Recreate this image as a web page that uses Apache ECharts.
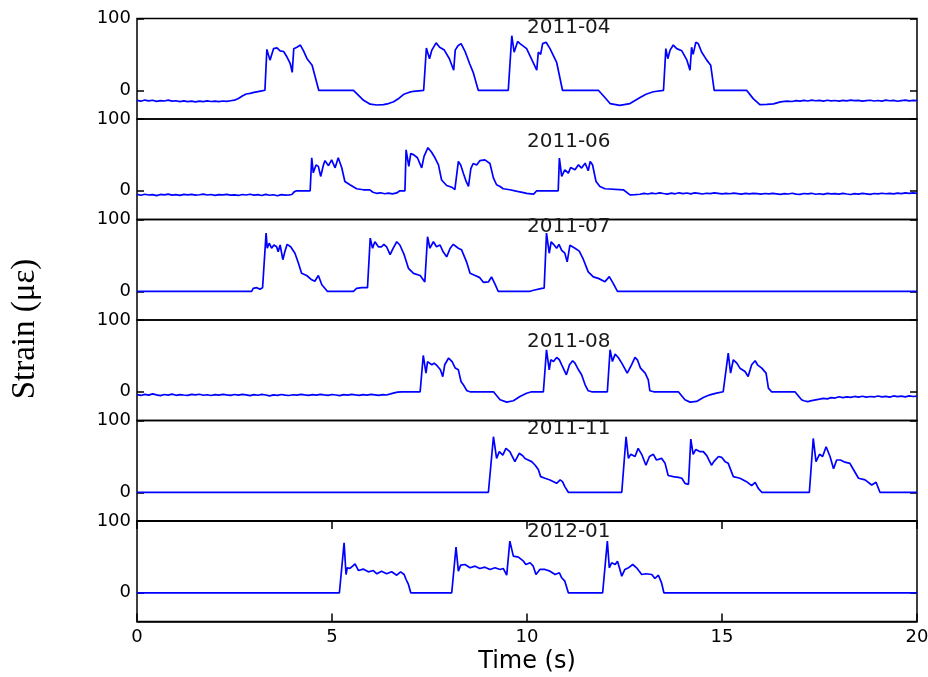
<!DOCTYPE html>
<html>
<head>
<meta charset="utf-8">
<title>Strain records</title>
<script src="https://cdn.jsdelivr.net/npm/echarts/dist/echarts.min.js"></script>
<style>
  html, body { margin: 0; padding: 0; background: #fff; }
  #chart { width: 928px; height: 677px; }
</style>
</head>
<body>
<div id="chart"></div>
<script>
// Recording dates, one stacked panel each
const panelLabels = ['2011-04', '2011-06', '2011-07', '2011-08', '2011-11', '2012-01'];

// Axis ticks
const xTicks = [0, 5, 10, 15, 20];
const yTicks = [0, 100];
const yRange = [-40, 100];
const xLabel = 'Time (s)';
const yLabel = 'Strain (\u03bc\u03b5)';

// Strain traces: [time (s), strain (µε)]
const strain201104 = [
  [0,-14.0],[0.1,-15.2],[0.2,-13.6],[0.3,-14.8],[0.4,-13.9],[0.5,-15.5],[0.6,-14.3],[0.7,-14.9],[0.8,-13.8],[0.9,-15.1],
  [1.0,-14.6],[1.1,-15.8],[1.2,-14.7],[1.3,-15.9],[1.4,-15.2],[1.5,-16.1],[1.6,-15.0],[1.7,-15.7],[1.8,-14.8],[1.9,-15.6],
  [2.0,-15.1],[2.1,-15.9],[2.2,-14.9],[2.3,-15.4],[2.4,-14.6],[2.5,-13.8],[2.6,-11.5],[2.7,-8.0],[2.8,-5.2],[2.9,-4.4],
  [3.0,-3.0],[3.1,-1.8],[3.2,-0.8],[3.28,0],
  [3.33,57],[3.41,42],[3.50,58],[3.59,59],[3.67,55],[3.76,54],[3.85,46],[3.93,37],[3.98,25],[4.02,58],[4.10,60],[4.19,63],
  [4.27,55],[4.36,44],[4.49,35],[4.66,0],
  [5.55,0],[5.70,-8],[5.81,-14],[5.98,-19.4],[6.15,-20.5],[6.32,-20],[6.45,-18.5],[6.58,-16],[6.72,-11],[6.84,-5.6],
  [6.97,-3],[7.09,-1.4],[7.35,0],
  [7.42,59],[7.50,44],[7.56,56],[7.67,66],[7.76,60],[7.88,56],[8.01,44],[8.12,28],[8.16,56],[8.23,62],[8.31,65],[8.42,53],
  [8.53,37],[8.62,25],[8.75,0],
  [9.52,0],[9.61,76],[9.67,53],[9.76,68],[9.82,65],[9.99,58],[10.25,28],[10.29,53],[10.35,50],[10.40,65],[10.49,67],
  [10.59,58],[10.76,39],[10.91,0],
  [11.83,0],[11.98,-9],[12.13,-18.5],[12.38,-21],[12.64,-18.5],[12.90,-10],[13.05,-5.5],[13.24,-2],[13.50,0],
  [13.56,58],[13.61,44],[13.67,56],[13.75,63],[13.84,58],[13.97,55],[14.10,42],[14.18,28],[14.22,60],[14.26,50],[14.33,67],
  [14.39,65],[14.48,53],[14.61,42],[14.71,35],[14.80,0],
  [15.63,0],[15.80,-11.6],[15.97,-20],[16.15,-19.5],[16.32,-19],[16.5,-16.2],[16.66,-15],
  [16.8,-15.6],[16.9,-14.4],[17.0,-15.1],[17.1,-14.0],[17.2,-14.9],[17.3,-13.8],[17.4,-14.6],[17.5,-14.1],[17.6,-15.0],
  [17.7,-13.9],[17.8,-14.7],[17.9,-14.2],[18.0,-15.2],[18.1,-14.0],[18.2,-14.8],[18.3,-13.7],[18.4,-14.5],[18.5,-14.1],
  [18.6,-15.1],[18.7,-14.3],[18.8,-13.9],[18.9,-14.9],[19.0,-14.2],[19.1,-15.0],[19.2,-13.8],[19.3,-14.6],[19.4,-14.0],
  [19.5,-15.3],[19.6,-14.4],[19.7,-13.6],[19.8,-14.8],[19.9,-14.1],[20.0,-14.5]
];

const strain201106 = [
  [0,-5.0],[0.1,-6.2],[0.2,-4.8],[0.3,-5.9],[0.4,-5.3],[0.5,-6.8],[0.6,-5.1],[0.7,-5.7],[0.8,-4.6],[0.9,-6.0],
  [1.0,-5.4],[1.1,-6.3],[1.2,-5.0],[1.3,-5.8],[1.4,-4.9],[1.5,-6.1],[1.6,-5.5],[1.7,-4.7],[1.8,-5.9],[1.9,-5.2],
  [2.0,-6.4],[2.1,-5.3],[2.2,-5.8],[2.3,-4.9],[2.4,-6.0],[2.5,-5.6],[2.6,-6.5],[2.7,-5.2],[2.8,-5.9],[2.9,-4.8],
  [3.0,-6.1],[3.1,-5.4],[3.2,-6.6],[3.3,-5.0],[3.4,-6.2],[3.5,-5.5],[3.6,-6.9],[3.7,-5.3],[3.8,-6.0],[3.9,-5.7],
  [3.97,-5.2],[4.03,-1.5],[4.09,0],[4.44,0],
  [4.48,46],[4.52,25],[4.59,36],[4.65,34],[4.71,20],[4.78,36],[4.82,42],[4.91,35],[4.99,43],[5.08,32],[5.16,46],[5.25,32],
  [5.33,13],[5.46,8.4],[5.63,2.8],[5.80,1.4],[5.97,1.2],[6.05,-2.0],[6.14,-3.5],[6.25,-2.8],[6.35,-4.1],[6.45,-3.2],
  [6.55,-4.3],[6.66,-3.0],[6.74,0],[6.87,0],
  [6.90,57],[6.97,34],[7.02,52],[7.10,50],[7.19,46],[7.30,32],[7.36,48],[7.46,60],[7.55,54],[7.64,46],[7.73,36],[7.81,15],
  [7.94,7.4],[8.07,5],[8.15,1.5],[8.24,41],[8.30,36],[8.37,24],[8.44,13],[8.50,6],[8.56,31],[8.62,38],[8.71,36],[8.79,42],
  [8.92,43],[9.05,38],[9.14,17.6],[9.22,8.4],[9.31,6],[9.39,2.8],[9.56,1.4],[9.75,-0.9],[9.91,-2.5],[9.99,-3.7],
  [10.17,-4.6],[10.25,0],[10.80,0],
  [10.83,45.5],[10.89,20],[10.97,29.3],[11.06,24.6],[11.12,32.5],[11.23,29.3],[11.32,36.2],[11.40,31.6],[11.49,38.5],
  [11.57,27.9],[11.62,40.9],[11.68,36.2],[11.77,13],[11.87,6],[12.00,2.8],[12.47,1.4],[12.64,-5.6],[12.77,-5.4],
  [12.9,-4.8],[13.0,-3.6],[13.1,-4.5],[13.2,-3.2],[13.3,-4.1],[13.4,-2.9],[13.5,-3.8],[13.6,-4.6],[13.7,-3.3],[13.8,-4.2],
  [13.9,-2.8],[14.0,-3.9],[14.1,-3.1],[14.2,-4.4],[14.3,-3.0],[14.4,-3.7],[14.5,-4.5],[14.6,-3.4],[14.7,-4.0],[14.8,-2.9],
  [14.9,-3.6],[15.0,-4.3],[15.1,-3.5],[15.2,-4.1],[15.3,-3.2],[15.4,-3.9],[15.5,-4.6],[15.6,-3.7],[15.7,-4.3],[15.8,-3.5],
  [15.9,-4.0],[16.0,-4.7],[16.1,-3.8],[16.2,-4.4],[16.3,-3.6],[16.4,-4.2],[16.5,-4.9],[16.6,-3.9],[16.7,-4.5],[16.8,-3.4],
  [16.9,-4.6],[17.0,-5.1],[17.1,-3.8],[17.2,-4.4],[17.3,-3.5],[17.4,-4.8],[17.5,-4.1],[17.6,-5.0],[17.7,-3.7],[17.8,-4.3],
  [17.9,-3.9],[18.0,-4.7],[18.1,-3.6],[18.2,-4.5],[18.3,-5.2],[18.4,-4.0],[18.5,-4.6],[18.6,-3.5],[18.7,-4.2],[18.8,-4.9],
  [18.9,-3.8],[19.0,-4.4],[19.1,-3.4],[19.2,-4.1],[19.3,-3.6],[19.4,-4.3],[19.5,-3.2],[19.6,-3.9],[19.7,-3.0],[19.8,-3.7],
  [19.9,-2.9],[20.0,-3.5]
];

const strain201107 = [
  [0,0],[2.94,0],[2.98,4],[3.07,5],[3.15,3],[3.22,5],[3.27,3],
  [3.31,81],[3.34,60],[3.39,67],[3.45,60],[3.51,64.5],[3.58,62],[3.62,55],[3.67,64.5],[3.74,44],[3.79,55],[3.85,65.4],
  [3.94,62],[4.05,53],[4.14,39],[4.22,25],[4.35,22],[4.48,16],[4.56,14],[4.65,22],[4.74,9],[4.88,0],
  [5.55,0],[5.63,4],[5.76,5],[5.91,5],[5.95,4],
  [5.98,74],[6.04,60],[6.10,69],[6.19,62],[6.27,62],[6.33,65.4],[6.40,62],[6.49,51],[6.57,60],[6.66,69],[6.74,64.5],
  [6.85,51],[6.96,32],[7.09,25],[7.26,22],[7.38,13],
  [7.45,76],[7.51,60],[7.60,69],[7.68,62],[7.77,64.5],[7.85,55],[7.94,48],[8.03,60],[8.11,65.4],[8.24,60],[8.32,58],
  [8.45,41],[8.54,25],[8.67,22],[8.79,19],[8.88,12.5],[9.01,13],[9.09,20],[9.18,10],[9.26,0],
  [10.08,0],[10.12,2.5],[10.17,1.5],[10.21,3.5],[10.38,4.1],[10.44,4.5],
  [10.50,81],[10.57,53],[10.62,69],[10.68,65.4],[10.76,60],[10.82,65.4],[10.89,57],[10.97,53],[11.03,41],[11.10,64],
  [11.23,60],[11.34,56],[11.44,45],[11.57,27],[11.70,20],[11.83,18],[12.00,13.4],[12.11,20.4],[12.21,11],[12.32,0],
  [20,0]
];

const strain201108 = [
  [0,-4.0],[0.1,-5.1],[0.2,-3.6],[0.3,-4.7],[0.4,-2.9],[0.5,-4.4],[0.6,-5.3],[0.7,-3.8],[0.8,-4.6],[0.9,-3.3],
  [1.0,-4.9],[1.1,-3.9],[1.2,-4.5],[1.3,-5.0],[1.4,-3.7],[1.5,-4.3],[1.6,-3.4],[1.7,-4.8],[1.8,-4.1],[1.9,-5.2],
  [2.0,-3.9],[2.1,-4.6],[2.2,-3.5],[2.3,-4.4],[2.4,-5.0],[2.5,-3.8],[2.6,-4.7],[2.7,-3.6],[2.8,-4.2],[2.9,-5.3],
  [3.0,-4.0],[3.1,-4.8],[3.2,-3.7],[3.3,-4.5],[3.4,-5.6],[3.5,-4.3],[3.6,-4.9],[3.7,-3.8],[3.8,-4.6],[3.9,-5.2],
  [4.0,-4.1],[4.1,-4.7],[4.2,-3.6],[4.3,-4.4],[4.4,-5.0],[4.5,-3.9],[4.6,-4.6],[4.7,-3.5],[4.8,-4.3],[4.9,-4.9],
  [5.0,-3.8],[5.1,-4.5],[5.2,-5.4],[5.3,-4.0],[5.4,-4.7],[5.5,-3.6],[5.6,-4.4],[5.7,-4.9],[5.8,-3.9],[5.9,-4.6],
  [6.0,-3.7],[6.1,-4.3],[6.2,-5.1],[6.3,-3.9],[6.4,-4.5],[6.5,-3.0],[6.57,-1.9],[6.68,-0.5],[6.79,0],
  [7.26,0],[7.34,50.6],[7.41,26],[7.45,42],[7.56,37.6],[7.62,40],[7.70,36],[7.78,30.6],[7.84,21],[7.89,37.6],[7.99,47],
  [8.08,42],[8.16,33],[8.24,30.6],[8.31,14],[8.37,9.7],[8.46,1.4],[8.54,0],
  [9.14,0],[9.31,-11],[9.48,-14.4],[9.65,-12.5],[9.82,-6.5],[9.99,-2],[10.12,0],
  [10.42,0],[10.50,58.5],[10.57,30.6],[10.61,44.6],[10.68,42.2],[10.76,47.8],[10.83,44.6],[10.89,37.6],[11.01,23.7],
  [11.09,37.6],[11.17,43.2],[11.23,39.9],[11.32,30.6],[11.40,23.7],[11.49,9.7],[11.57,1.4],[11.66,0],
  [12.06,0],[12.13,58.5],[12.19,42.2],[12.26,52.4],[12.34,47.8],[12.43,39.9],[12.57,26],[12.62,23.7],[12.68,37.6],
  [12.77,47.8],[12.83,44.6],[12.91,32.9],[13.03,26],[13.11,16.7],[13.15,1.4],[13.25,0],
  [13.88,0],[14.05,-11.1],[14.18,-14.4],[14.35,-13.4],[14.52,-7.9],[14.69,-4.2],[14.86,-1.9],[15.03,0],
  [15.16,53.8],[15.22,26],[15.29,44.6],[15.38,40],[15.46,32.9],[15.59,28.3],[15.67,21.4],[15.76,37.6],[15.85,43.2],
  [15.91,37.6],[16.02,32.9],[16.13,26],[16.19,5.1],[16.27,0],
  [16.87,0],[17.04,-11.1],[17.1,-12.5],[17.2,-13.6],[17.3,-12.4],[17.4,-11.2],[17.5,-10.3],[17.6,-9.2],[17.7,-9.8],
  [17.8,-8.1],[17.9,-8.7],[18.0,-6.9],[18.1,-8.1],[18.2,-7.0],[18.3,-7.8],[18.4,-6.5],[18.5,-7.4],[18.6,-6.2],
  [18.7,-7.5],[18.8,-6.6],[18.9,-7.2],[19.0,-5.9],[19.1,-7.0],[19.2,-6.3],[19.3,-7.4],[19.4,-5.8],[19.5,-6.8],
  [19.6,-6.0],[19.7,-7.1],[19.8,-5.7],[19.9,-6.6],[20.0,-6.1]
];

const strain201111 = [
  [0,0],[9.01,0],
  [9.14,77.4],[9.22,47.3],[9.29,56.6],[9.38,51.9],[9.46,61.2],[9.56,56.6],[9.69,42.7],[9.80,54.3],[9.89,51],[9.95,47],
  [10.03,45],[10.12,42.7],[10.21,37.7],[10.29,31.8],[10.35,21.8],[10.46,19.5],[10.59,17.2],[10.68,14.8],[10.76,12.5],
  [10.85,17.2],[10.91,14.8],[10.97,7.9],[11.06,0],
  [12.43,0],[12.54,77.4],[12.60,47.3],[12.66,52.9],[12.77,49.9],[12.85,61.2],[12.94,52.9],[13.05,37.7],[13.14,49.9],
  [13.24,52.9],[13.32,45],[13.45,47.3],[13.54,40.3],[13.62,23.4],[13.75,21.8],[13.88,20.8],[13.97,19.5],[14.05,12.5],
  [14.14,11.1],[14.20,74.1],[14.26,52.9],[14.33,59.7],[14.44,56.6],[14.52,56.6],[14.61,51],[14.73,37.7],[14.79,42.7],
  [14.91,49.9],[14.99,48.7],[15.08,42.7],[15.16,40.3],[15.29,21.8],[15.46,19.5],[15.63,14.8],[15.76,9.3],[15.85,13.9],
  [15.93,5.5],[16.02,0],
  [17.24,0],[17.34,75],[17.41,42.7],[17.50,52.9],[17.58,49.9],[17.67,63.4],[17.77,49.9],[17.86,32.7],[17.94,45],
  [18.04,45],[18.15,42],[18.28,40.3],[18.37,31.8],[18.50,19.5],[18.67,17.2],[18.84,10.2],[18.95,13.9],[19.05,0],
  [20,0]
];

const strain201201 = [
  [0,0],[5.19,0],
  [5.31,69.6],[5.36,25.5],[5.39,34.8],[5.46,33.9],[5.53,37.1],[5.59,40.4],[5.68,31],[5.80,33],[5.93,29.2],[6.06,31],
  [6.15,26.5],[6.27,30.1],[6.40,26.5],[6.53,29.2],[6.66,24.5],[6.76,29.2],[6.85,25.5],[6.90,18.5],[6.96,11.6],[7.02,0],
  [8.07,0],[8.18,63.5],[8.24,30.1],[8.30,38.5],[8.41,39.4],[8.54,34.8],[8.67,37.1],[8.79,33.9],[8.92,35.7],[9.05,32.5],
  [9.18,34.8],[9.31,32.5],[9.39,33.9],[9.48,24.5],
  [9.56,71.9],[9.65,51],[9.78,49.6],[9.91,44],[9.97,39.4],[10.08,41.8],[10.16,37.1],[10.23,25.5],[10.33,32.5],
  [10.46,32.5],[10.59,30.1],[10.72,25.5],[10.83,27.9],[10.89,20.9],[10.97,16.2],[11.06,0],
  [11.94,0],[12.06,71.9],[12.11,34.8],[12.17,41.8],[12.26,39.4],[12.32,44],[12.37,34.8],[12.43,23.1],[12.51,32.5],
  [12.60,34.8],[12.71,39.4],[12.81,34.8],[12.94,25.5],[13.05,26.5],[13.20,25.5],[13.28,19.9],[13.37,24.5],[13.45,13.9],
  [13.51,0],[20,0]
];

const traces = [strain201104, strain201106, strain201107, strain201108, strain201111, strain201201];

// Layout (pixels)
const plotLeft = 137, plotRight = 11, plotTop = 18.5, panelHeight = 100.5;
const titleLeft = 527;
const titleTops = [18, 132, 217, 332, 419, 522];
const sansFont = 'DejaVu Sans, sans-serif';
const lineBlue = '#0000ff';

const chart = echarts.init(document.getElementById('chart'), null, { renderer: 'canvas' });

const last = panelLabels.length - 1;
const grids = [], xAxes = [], yAxes = [], series = [];

function tickStyle() { return { color: '#000', width: 1.5 }; }
function frameLine() { return { show: true, onZero: false, lineStyle: { color: '#000', width: 1.5 } }; }

panelLabels.forEach((label, i) => {
  grids.push({
    left: plotLeft, right: plotRight,
    top: plotTop + i * panelHeight, height: panelHeight,
    show: true, borderColor: '#000', borderWidth: 1.5,
    outerBoundsMode: 'none'
  });

  // bottom time axis (labels and ticks on the last panel only)
  xAxes.push({
    gridIndex: i, type: 'value', position: 'bottom',
    min: xTicks[0], max: xTicks[xTicks.length - 1], interval: 5,
    axisLine: i === last ? frameLine() : { show: false, onZero: false },
    axisTick: { show: i === last, inside: true, length: 8, lineStyle: tickStyle() },
    axisLabel: { show: i === last, color: '#000', fontSize: 18, fontFamily: sansFont, margin: 7 },
    splitLine: { show: false }
  });

  // left strain axis with 0 / 100 marks
  yAxes.push({
    gridIndex: i, type: 'value', position: 'left',
    min: yRange[0], max: yRange[1],
    axisLine: { show: false, onZero: false },
    axisTick: { show: true, inside: true, length: 7, customValues: yTicks, lineStyle: tickStyle() },
    axisLabel: { show: true, customValues: yTicks, color: '#000', fontSize: 18, fontFamily: sansFont, margin: 6 },
    splitLine: { show: false }
  });

  series.push({
    name: label, type: 'line',
    xAxisIndex: i, yAxisIndex: i,
    data: traces[i],
    showSymbol: false, symbol: 'none',
    lineStyle: { color: lineBlue, width: 1.7 },
    clip: true, animation: false
  });
});

// mirrored ticks on the right side of every panel
panelLabels.forEach((label, i) => {
  yAxes.push({
    gridIndex: i, type: 'value', position: 'right',
    min: yRange[0], max: yRange[1],
    axisLine: { show: false, onZero: false },
    axisTick: { show: true, inside: true, length: 7, customValues: yTicks, lineStyle: tickStyle() },
    axisLabel: { show: false },
    splitLine: { show: false }
  });
});

// mirrored time ticks along the top of the last panel
xAxes.push({
  gridIndex: last, type: 'value', position: 'top',
  min: xTicks[0], max: xTicks[xTicks.length - 1], interval: 5,
  axisLine: frameLine(),
  axisTick: { show: true, inside: true, length: 8, lineStyle: tickStyle() },
  axisLabel: { show: false },
  splitLine: { show: false }
});

const graphics = panelLabels.map((label, i) => ({
  type: 'text', left: titleLeft, top: titleTops[i], z: 10,
  style: { text: label, fill: '#1a1a1a', font: '20px ' + sansFont }
}));

graphics.push({
  type: 'text', x: 25, y: 329, rotation: Math.PI / 2, z: 10,
  style: { text: yLabel, fill: '#000', font: '33px "Liberation Serif", "Times New Roman", serif',
           align: 'center', verticalAlign: 'middle' }
});
graphics.push({
  type: 'text', x: 527, y: 662, z: 10,
  style: { text: xLabel, fill: '#000', font: '24px ' + sansFont, align: 'center', verticalAlign: 'middle' }
});

chart.setOption({
  animation: false,
  backgroundColor: '#fff',
  grid: grids,
  xAxis: xAxes,
  yAxis: yAxes,
  series: series,
  graphic: graphics
});
</script>
</body>
</html>
